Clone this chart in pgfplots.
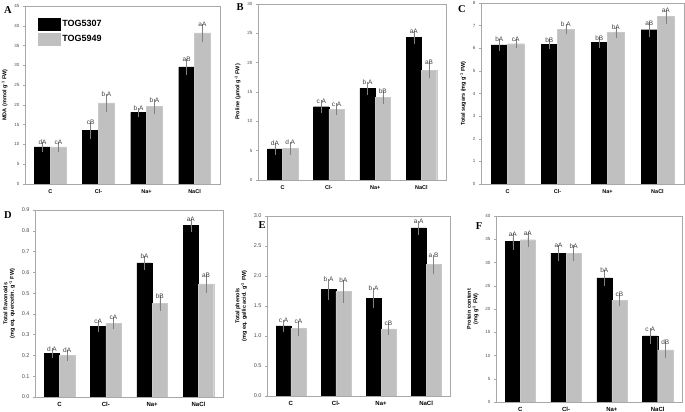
\documentclass[border=0pt]{standalone}
\usepackage{pgfplots}
\pgfplotsset{compat=1.18}
\usepackage{pgfplotstable}
\usepackage{fontspec}
\setmainfont{Liberation Sans}
\newfontfamily\letterfont{Liberation Serif}

\definecolor{bargray}{HTML}{C0C0C0}
\definecolor{errgray}{HTML}{808080}
\definecolor{axgray}{HTML}{A8A8A8}

% MDA
\pgfplotstableread{
x y e lab
0 9.4 0.2 dA
1 13.6 1.1 cB
2 18.1 0.2 {b A}
3 29.6 1.0 aB
}\Ablk
\pgfplotstableread{
x y e lab
0 9.4 0.3 cA
1 20.5 1.2 {b A}
2 19.6 0.8 {b A}
3 38.2 1.2 aA
}\Agry
% Proline
\pgfplotstableread{
x y e lab
0 5.3 0.3 dA
1 12.5 0.4 {c A}
2 15.6 0.4 {b A}
3 24.3 0.5 aA
}\Bblk
\pgfplotstableread{
x y e lab
0 5.4 0.4 {d A}
1 12.1 0.3 {c A}
2 14.1 0.4 bB
3 18.7 0.7 aB
}\Bgry
% Total sugars
\pgfplotstableread{
x y e lab
0 6.15 0.10 bA
1 6.17 0.04 bB
2 6.25 0.05 bB
3 6.82 0.15 aB
}\Cblk
\pgfplotstableread{
x y e lab
0 6.20 0.03 cA
1 6.84 0.05 {b A}
2 6.70 0.08 bA
3 7.40 0.13 aA
}\Cgry
% Flavonoids
\pgfplotstableread{
x y e lab
0 0.210 0.005 {d A}
1 0.340 0.010 cA
2 0.645 0.014 bA
3 0.825 0.013 aA
}\Dblk
\pgfplotstableread{
x y e lab
0 0.200 0.008 dA
1 0.355 0.010 cA
2 0.450 0.018 bB
3 0.545 0.025 aB
}\Dgry
% Phenols
\pgfplotstableread{
x y e lab
0 1.17 0.03 {c A}
1 1.78 0.11 {b A}
2 1.63 0.10 {b A}
3 2.80 0.05 {a A}
}\Eblk
\pgfplotstableread{
x y e lab
0 1.13 0.06 cA
1 1.74 0.13 bA
2 1.12 0.03 cB
3 2.19 0.09 {a B}
}\Egry
% Protein
\pgfplotstableread{
x y e lab
0 34.5 0.9 aA
1 32.0 0.9 aA
2 26.7 0.9 bA
3 14.2 0.8 {c A}
}\Fblk
\pgfplotstableread{
x y e lab
0 34.9 0.7 aA
1 32.0 0.8 bA
2 21.9 0.5 cB
3 11.2 0.8 dB
}\Fgry

\pgfplotsset{
  panel/.style={
    scale only axis,
    anchor=south west,
    ybar=0pt,
    bar width=0.33,
    xmin=-0.53, xmax=3.53,
    ymin=0,
    xtick={0,1,2,3},
    xticklabels={C,Cl-,Na+,NaCl},
    xticklabel style={font=\bfseries\fontsize{5.5}{6}\selectfont},
    x tick style={draw=none},
    y tick style={axgray, line width=0.4pt},
    yticklabel style={font=\fontsize{4.5}{5}\selectfont, text=black!70},
    /pgf/number format/assume math mode=true,
    tick align=outside,
    ytick pos=left,
    major tick length=2pt,
    axis line style={axgray, line width=0.4pt},
    ylabel style={font=\bfseries\fontsize{5.5}{6.5}\selectfont, align=center},
    point meta=explicit symbolic,
    nodes near coords,
    visualization depends on={\thisrow{e} \as \err},
    every node near coord/.append style={font=\fontsize{6.5}{6.5}\selectfont,
      text=black!75, anchor=south, inner sep=1pt,
      shift={(axis direction cs:0,\err)}},
    error bars/y dir=both,
    error bars/y explicit,
    error bars/error bar style={errgray, line width=0.4pt},
    error bars/error mark options={errgray, mark size=4pt, line width=0.4pt},
  },
  lower/.style={
    xticklabel style={font=\bfseries\fontsize{6}{6.5}\selectfont},
    yticklabel style={font=\fontsize{5.5}{6}\selectfont},
  },
  blk/.style={fill=black, draw=black, line width=0.3pt},
  gry/.style={fill=bargray, draw=bargray!85, line width=0.3pt},
}

\begin{document}
\begin{tikzpicture}[x=1pt,y=1pt]

% A
\begin{axis}[panel, at={(25pt,228pt)}, width=195pt, height=178pt,
  ymax=45, ytick={0,5,...,45},
  ylabel={MDA (mmol g\textsuperscript{-1} FW)},
  legend style={at={(0.05,0.945)}, anchor=north west, draw=none, fill=none,
    font=\bfseries\fontsize{9}{10}\selectfont, row sep=3pt},
  legend cell align=left]
\addplot[blk, legend image code/.code={\fill[black] (0pt,-6pt) rectangle (22pt,6pt);}]
  table[x=x, y=y, y error=e, meta=lab] {\Ablk};
\addplot[gry, legend image code/.code={\fill[bargray] (0pt,-6pt) rectangle (22pt,6pt);}]
  table[x=x, y=y, y error=e, meta=lab] {\Agry};
\legend{TOG5307,TOG5949}
\end{axis}

% B
\begin{axis}[panel, at={(258pt,232pt)}, width=188pt, height=176pt,
  ymax=30, ytick={0,5,...,30},
  ylabel={Proline (µmol g\textsuperscript{-1} FW)}]
\addplot[blk] table[x=x, y=y, y error=e, meta=lab] {\Bblk};
\addplot[gry] table[x=x, y=y, y error=e, meta=lab] {\Bgry};
\end{axis}

% C
\begin{axis}[panel, at={(481pt,228pt)}, width=203pt, height=181pt,
  ymax=8, ytick={0,1,...,8},
  ylabel={Total sugars (mg g\textsuperscript{-1} FW)}]
\addplot[blk] table[x=x, y=y, y error=e, meta=lab] {\Cblk};
\addplot[gry] table[x=x, y=y, y error=e, meta=lab] {\Cgry};
\end{axis}

% D
\begin{axis}[panel, lower, at={(35pt,15pt)}, width=188pt, height=187pt,
  ymax=0.9, ytick={0,0.1,...,0.9},
  yticklabel style={/pgf/number format/.cd, fixed, fixed zerofill, precision=1},
  ylabel={Total flavonoids\\(mg eq. quercetin. g\textsuperscript{-1} FW)}]
\addplot[blk] table[x=x, y=y, y error=e, meta=lab] {\Dblk};
\addplot[gry] table[x=x, y=y, y error=e, meta=lab] {\Dgry};
\end{axis}

% E
\begin{axis}[panel, lower, at={(267pt,16pt)}, width=183pt, height=180pt,
  ymax=3, ytick={0,0.5,...,3},
  yticklabel style={/pgf/number format/.cd, fixed, fixed zerofill, precision=1},
  ylabel={Total phenols\\(mg eq. gallic acid. g\textsuperscript{-1} FW)}]
\addplot[blk] table[x=x, y=y, y error=e, meta=lab] {\Eblk};
\addplot[gry] table[x=x, y=y, y error=e, meta=lab] {\Egry};
\end{axis}

% F
\begin{axis}[panel, at={(496pt,10pt)}, width=186pt, height=186pt,
  ymax=40, ytick={0,5,...,40},
  xticklabel style={font=\bfseries\fontsize{6}{6.5}\selectfont},
  ylabel={Protein content\\(mg g\textsuperscript{-1} FW)}]
\addplot[blk] table[x=x, y=y, y error=e, meta=lab] {\Fblk};
\addplot[gry] table[x=x, y=y, y error=e, meta=lab] {\Fgry};
\end{axis}

% panel letters
\begin{scope}[every node/.style={font=\letterfont\bfseries\fontsize{10.5}{10.5}\selectfont, inner sep=0pt}]
\node at (8pt,402pt) {A};
\node at (240pt,405pt) {B};
\node at (462pt,403pt) {C};
\node at (8pt,197pt) {D};
\node at (262pt,187pt) {E};
\node at (479pt,186pt) {F};
\end{scope}

\pgfresetboundingbox
\useasboundingbox (0pt,0pt) rectangle (685pt,412pt);
\end{tikzpicture}
\end{document}
